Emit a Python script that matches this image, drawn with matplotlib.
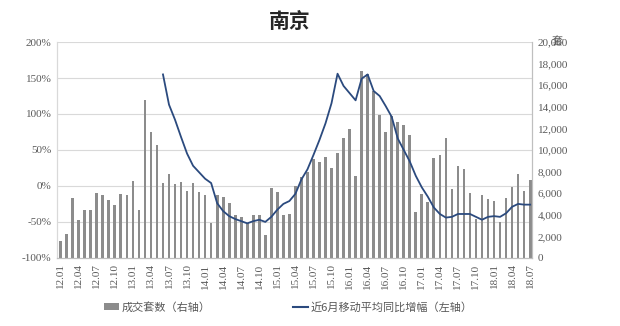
import matplotlib
matplotlib.use("Agg")
import matplotlib.pyplot as plt
from matplotlib.patches import Patch
from matplotlib.lines import Line2D

plt.rcParams["font.family"] = ["Noto Sans CJK SC", "DejaVu Sans"]

# ============================================================
# 数据 (2012.01 - 2018.07, 月度)
# ============================================================

months = [f"{y:02d}.{m:02d}" for y in range(12, 19) for m in range(1, 13)][:79]

# 成交套数（右轴）
deals = [
    1600, 2200, 5530, 3470, 4400, 4400, 6000, 5800, 5330, 4870, 5930, 5870,
    7130, 4470, 14600, 11670, 10470, 6930, 7730, 6870, 7070, 6200, 6930, 6070,
    5800, 3200, 5870, 5670, 5130, 4000, 3780, 3210, 3950, 3980, 2130, 6460,
    6080, 3950, 4030, 6670, 7500, 8000, 9200, 8880, 9330, 8310, 9720, 11100,
    11960, 7590, 17300, 17040, 15430, 13270, 11670, 13120, 12590, 12350, 11420, 4230,
    5960, 5150, 9260, 9570, 11110, 6390, 8550, 8240, 6020, 3610, 5860, 5460,
    5250, 3330, 5560, 6540, 7780, 6170, 7220,
]

# 近6月移动平均同比增幅（左轴），从 2013.06 开始
growth_start = 17
growth = [
    155, 113, 92, 68, 45, 28, 19, 10, 4, -24, -35, -42,
    -46, -49, -52, -49, -47, -50, -43, -33, -25, -21, -11, 9,
    23, 43, 64, 87, 115, 156, 139, 129, 119, 149, 155, 132,
    125, 111, 96, 66, 50, 34, 14, -2, -15, -30, -39, -44,
    -43, -39, -39, -39, -43, -47, -43, -42, -43, -38, -29, -25,
    -26, -26,
]

left_ticks = [-100, -50, 0, 50, 100, 150, 200]
right_ticks = list(range(0, 20001, 2000))

bar_color = "#8c8c8c"
line_color = "#2b4a7e"
grid_color = "#d9d9d9"
text_color = "#595959"
num_font = "Liberation Serif"

# ============================================================
# Graf
# ============================================================

fig = plt.figure(figsize=(6.2, 3.26), dpi=100)
ax = fig.add_axes([0.092, 0.209, 0.766, 0.662])
ax2 = ax.twinx()

x = list(range(len(deals)))

# mreža po levi osi (narisana pod stolpci)
for p in left_ticks[1:]:
    ax.axhline((p + 100) / 300 * 20000, color=grid_color, lw=0.8, zorder=0)

ax.bar(x, deals, width=0.45, color=bar_color, zorder=2)
ax.set_ylim(0, 20000)
ax.set_xlim(-0.6, 78.3)
ax.set_xticks(x[::3])
ax.set_xticklabels(months[::3], rotation=90, fontfamily=num_font,
                   fontsize=8, color=text_color)

gx = list(range(growth_start, growth_start + len(growth)))
ax2.plot(gx, growth, color=line_color, lw=1.3, zorder=3)
ax2.set_ylim(-100, 200)

# bars -> right axis, line -> left axis
ax.yaxis.set_ticks_position("right")
ax.yaxis.set_label_position("right")
ax2.yaxis.set_ticks_position("left")
ax2.yaxis.set_label_position("left")

ax.set_yticks(right_ticks)
ax.set_yticklabels([f"{v:,}" for v in right_ticks], fontfamily=num_font,
                   fontsize=8, color=text_color)
ax2.set_yticks(left_ticks)
ax2.set_yticklabels([f"{v}%" for v in left_ticks], fontfamily=num_font,
                    fontsize=8, color=text_color)

ax.tick_params(axis="both", length=0, pad=4, labelleft=False, labelright=True)
ax2.tick_params(axis="y", length=0, pad=4, labelleft=True, labelright=False)

for a in (ax, ax2):
    a.spines["top"].set_visible(False)
    a.spines["left"].set_color(grid_color)
    a.spines["right"].set_color("#bfbfbf")
    a.spines["bottom"].set_color("#bfbfbf")

fig.text(0.468, 0.935, "南京", fontsize=15, fontweight="bold",
         ha="center", va="center", color="#262626")
fig.text(0.898, 0.871, "套", fontsize=8, ha="center", va="center",
         color=text_color)

handles = [
    Patch(facecolor=bar_color, edgecolor="none"),
    Line2D([0], [0], color=line_color, lw=1.5),
]
labels = ["成交套数（右轴）", "近6月移动平均同比增幅（左轴）"]
fig.legend(handles, labels, loc="center", bbox_to_anchor=(0.465, 0.058),
           ncol=2, frameon=False, fontsize=8, handlelength=1.3,
           handleheight=0.6, handletextpad=0.2, columnspacing=7.5,
           labelcolor=text_color)

fig.savefig("out.png", dpi=100)
